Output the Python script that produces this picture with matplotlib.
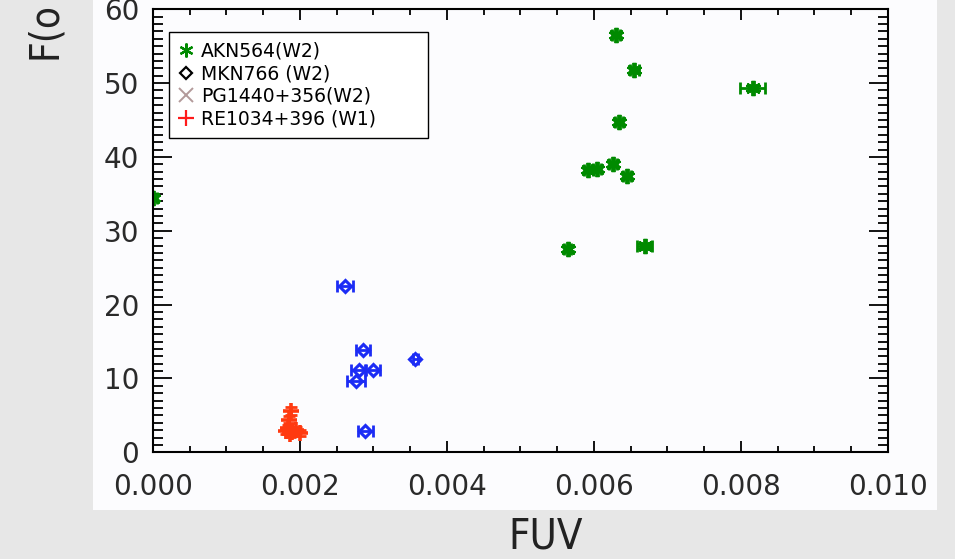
import matplotlib.pyplot as plt
from matplotlib.lines import Line2D
from matplotlib.ticker import MultipleLocator

# AKN564 (W2)
akn_x = [0.00630, 0.00655, 0.00816, 0.00634, 0.00626, 0.00592, 0.00604, 0.00645, 0.00564, 0.00669, 0.0]
akn_y = [56.5, 51.8, 49.4, 44.8, 39.0, 38.3, 38.4, 37.4, 27.6, 28.0, 34.4]
akn_xerr = [0.00006, 0.00006, 0.00017, 0.00006, 0.00006, 0.00006, 0.00006, 0.00006, 0.00005, 0.00010, 0.00005]

# MKN766 (W2)
mkn_x = [0.00261, 0.00286, 0.00357, 0.00280, 0.00299, 0.00276, 0.00289]
mkn_y = [22.5, 13.8, 12.6, 11.2, 11.2, 9.7, 2.9]
mkn_xerr = [0.000113, 0.000095, 0.00003, 0.0001, 0.0001, 0.00012, 0.0001]

# RE1034+396 (W1)
re_x = [0.00188, 0.00185, 0.00184, 0.00181, 0.00189, 0.00195, 0.00200, 0.00186]
re_y = [5.6, 4.4, 3.3, 2.9, 2.75, 3.0, 2.6, 2.5]
re_yerr = [0.6, 0.5, 0.4, 0.4, 0.4, 0.4, 0.4, 0.4]

labels = ['AKN564(W2)', 'MKN766 (W2)', 'PG1440+356(W2)', 'RE1034+396 (W1)']

green = '#008a00'
blue = '#1c2cf5'
red = '#ff3a10'

fig = plt.figure(figsize=(9.55, 5.59), dpi=100)
fig.patch.set_facecolor('#e7e7e7')

# white slide panel behind the plot
panel = fig.add_axes([0.0974, 0.0877, 0.8838, 0.9123], zorder=-5)
panel.set_facecolor('#fcfcfe')
panel.set_xticks([])
panel.set_yticks([])
for sp in panel.spines.values():
    sp.set_visible(False)

ax = fig.add_axes([0.1602, 0.1909, 0.7696, 0.7925])
ax.set_facecolor('#fcfcfe')

star = (6, 2, 0)
ax.errorbar(akn_x, akn_y, xerr=akn_xerr, fmt='none', ecolor=green, elinewidth=2, capsize=4, capthick=2)
ax.plot(akn_x, akn_y, ls='none', marker=star, ms=11, mew=2.8, color=green)

ax.errorbar(mkn_x, mkn_y, xerr=mkn_xerr, fmt='none', ecolor=blue, elinewidth=2, capsize=4.5, capthick=2)
ax.plot(mkn_x, mkn_y, ls='none', marker='D', ms=6.5, mew=2.2, mfc='none', mec=blue)

ax.errorbar(re_x, re_y, yerr=re_yerr, fmt='none', ecolor=red, elinewidth=2, capsize=4, capthick=2)
ax.plot(re_x, re_y, ls='none', marker='+', ms=11, mew=2.6, color=red)

ax.set_xlim(0, 0.010)
ax.set_ylim(0, 60)
ax.xaxis.set_major_locator(MultipleLocator(0.002))
ax.xaxis.set_minor_locator(MultipleLocator(0.0005))
ax.yaxis.set_major_locator(MultipleLocator(10))
ax.yaxis.set_minor_locator(MultipleLocator(1))
ax.xaxis.set_major_formatter(plt.FormatStrFormatter('%.3f'))

ax.tick_params(axis='x', which='major', direction='in', length=8, width=1.3, top=True, pad=15)
ax.tick_params(axis='x', which='minor', direction='in', length=4, width=1.3, top=True)
ax.tick_params(axis='y', which='major', direction='in', length=14, width=1.3, right=True, pad=10)
ax.tick_params(axis='y', which='minor', direction='in', length=7, width=1.3, right=True)
for lab in ax.get_xticklabels() + ax.get_yticklabels():
    lab.set_family('DejaVu Sans')
    lab.set_fontsize(20)
    lab.set_color('#2a2a2a')
for sp in ax.spines.values():
    sp.set_linewidth(1.5)

handles = [
    Line2D([], [], ls='none', marker=star, ms=10, mew=1.6, color=green),
    Line2D([], [], ls='none', marker='D', ms=6.5, mew=1.6, mfc='none', mec='black'),
    Line2D([], [], ls='none', marker='x', ms=10, mew=1.4, color='#b39a9a'),
    Line2D([], [], ls='none', marker='+', ms=12, mew=1.6, color='#ff1a1a'),
]
leg = ax.legend(handles, labels, loc='upper left', bbox_to_anchor=(0.0218, 0.0, 0.3524, 0.9488),
                mode='expand', borderaxespad=0,
                fancybox=False, edgecolor='black', framealpha=1, handlelength=0.8, handletextpad=0.4,
                labelspacing=0.2, borderpad=0.5, prop={'family': 'DejaVu Sans', 'size': 13.5})
leg.get_frame().set_linewidth(1.0)

fig.text(0.047, 0.997, 'F(o', rotation=90, ha='center', va='top', fontsize=29,
         family='DejaVu Sans', stretch='condensed', color='#222222')
fig.text(0.571, 0.002, 'FUV', ha='center', va='bottom', fontsize=30,
         family='DejaVu Sans', stretch='condensed', color='#222222')

fig.savefig('out.png', dpi=100, facecolor=fig.get_facecolor())
